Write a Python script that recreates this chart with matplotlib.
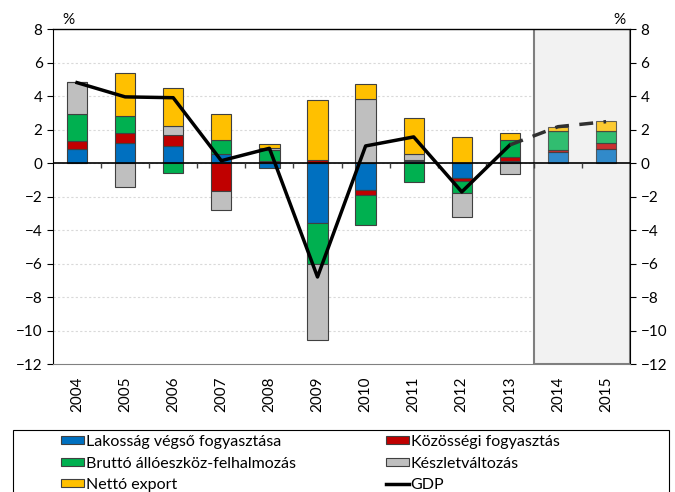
import numpy as np
import matplotlib
matplotlib.use('Agg')
import matplotlib.pyplot as plt
from matplotlib.patches import Rectangle

plt.rcParams['font.family'] = ['Lato', 'DejaVu Sans']

years = ['2004', '2005', '2006', '2007', '2008', '2009', '2010', '2011', '2012', '2013', '2014', '2015']
lakossag = [0.82, 1.18, 1.00, 0.52, -0.30, -3.60, -1.62, 0.15, -0.92, 0.12, 0.64, 0.84]
kozossegi = [0.50, 0.64, 0.66, -1.64, 0.15, 0.18, -0.30, 0.05, -0.16, 0.22, 0.14, 0.38]
brutto = [1.61, 0.99, -0.62, 0.84, 0.60, -2.40, -1.75, -1.12, -0.70, 1.04, 1.14, 0.68]
keszlet = [1.90, -1.44, 0.54, -1.19, 0.15, -4.55, 3.81, 0.36, -1.47, -0.68, 0.0, 0.0]
netto = [0.0, 2.56, 2.27, 1.57, 0.25, 3.60, 0.90, 2.10, 1.58, 0.40, 0.22, 0.62]
gdp = [4.80, 3.95, 3.90, 0.14, 0.88, -6.80, 1.02, 1.56, -1.72, 1.08, 2.17, 2.47]

names = ['Lakosság végső fogyasztása', 'Közösségi fogyasztás',
         'Bruttó állóeszköz-felhalmozás', 'Készletváltozás', 'Nettó export']
colors = ['#0070C0', '#C00000', '#00B050', '#BFBFBF', '#FFC000']
series = [lakossag, kozossegi, brutto, keszlet, netto]

n_hist = 10  # 2004-2013 actual, 2014-2015 forecast
x = np.arange(len(years))

fig = plt.figure(figsize=(6.75, 4.92), dpi=100)
ax = fig.add_axes([0.0785, 0.26, 0.855, 0.681])

# forecast shading
ax.add_patch(Rectangle((n_hist - 0.5, -12), 2, 20, facecolor='#F2F2F2',
                       edgecolor='#7F7F7F', linewidth=1.5, zorder=0.5))

for yv in np.arange(-10, 8, 2):
    ax.axhline(yv, color='#D9D9D9', linestyle=(0, (2, 2)), linewidth=0.8, zorder=0.4)

pos_base = np.zeros(len(years))
neg_base = np.zeros(len(years))
handles = []
for name, col, vals in zip(names, colors, series):
    vals = np.array(vals)
    base = np.where(vals >= 0, pos_base, neg_base)
    bars = ax.bar(x, vals, 0.42, bottom=base, color=col, edgecolor='#404040',
                  linewidth=0.8, zorder=2)
    for b in bars[n_hist:]:
        b.set_alpha(0.8)
    handles.append(bars[0])
    pos_base += np.where(vals >= 0, vals, 0)
    neg_base += np.where(vals < 0, vals, 0)

gdp_line, = ax.plot(x[:n_hist], gdp[:n_hist], color='black', linewidth=2.5, zorder=4)
ax.plot(x[n_hist - 1:], gdp[n_hist - 1:], color='#303030', linewidth=2.5,
        linestyle=(0, (4, 3)), zorder=4)

ax.axhline(0, color='black', linewidth=1.2, zorder=3)
ax.vlines(np.arange(0.5, len(years) - 1), -0.3, 0, color='#404040', linewidth=1, zorder=3)

ax.set_xlim(-0.5, len(years) - 0.5)
ax.set_ylim(-12, 8)
ax.set_yticks(np.arange(-12, 9, 2))
ax.set_xticks(x)
ax.set_xticklabels(years, rotation=90, fontsize=11)
ax.tick_params(axis='x', length=0, pad=9)
ax.tick_params(axis='y', labelsize=11, direction='out', length=4, right=True, labelright=True)
ax.spines['bottom'].set_color('#808080')
ax.spines['top'].set_linewidth(1)

ax.text(0.026, 1.005, '%', transform=ax.transAxes, fontsize=11, ha='center', va='bottom')
ax.text(0.981, 1.005, '%', transform=ax.transAxes, fontsize=11, ha='center', va='bottom')

# legend: row-wise order as in the original
order = [0, 2, 4, 1, 3]
leg_h = [handles[i] for i in order] + [gdp_line]
leg_l = [names[i] for i in order] + ['GDP']
leg = fig.legend(leg_h, leg_l, ncol=2, loc='upper left',
                 bbox_to_anchor=(57 / 675, 1 - 431 / 492),
                 fontsize=11.5, frameon=False, handlelength=1.45, handleheight=0.42,
                 handletextpad=0.12, borderpad=0.25, labelspacing=0.47,
                 columnspacing=5.6, borderaxespad=0)
for h in leg.legend_handles[:5]:
    h.set_alpha(1.0)
fig.patches.append(Rectangle((12.7 / 675, -0.05), (669 - 12.7) / 675, 0.05 + 1 - 430 / 492,
                             transform=fig.transFigure, fill=False,
                             edgecolor='black', linewidth=0.8))

fig.savefig('out.png', dpi=100)
